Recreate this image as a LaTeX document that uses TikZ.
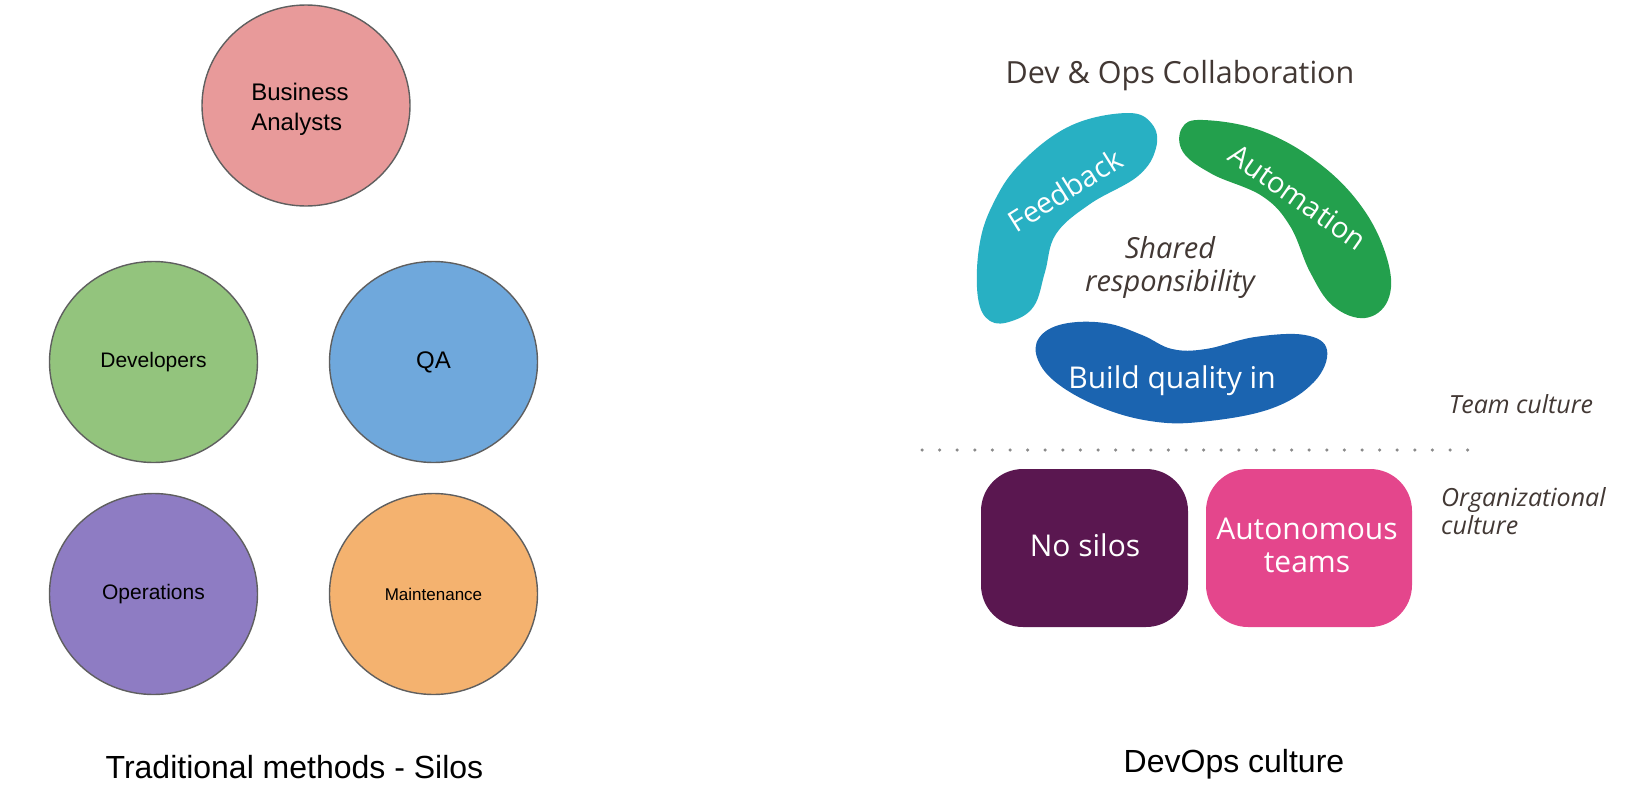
\documentclass[tikz,border=0pt]{standalone}
\usepackage{fontspec}
\setmainfont{Liberation Sans}
\newfontfamily\osans{Open Sans}
\usetikzlibrary{shapes.geometric}
\definecolor{baC}{HTML}{E89A9A}
\definecolor{devC}{HTML}{93C47D}
\definecolor{qaC}{HTML}{6FA8DC}
\definecolor{opsC}{HTML}{8E7CC3}
\definecolor{mntC}{HTML}{F4B26F}
\definecolor{siloline}{HTML}{5F5F5F}
\definecolor{fbC}{HTML}{28B0C3}
\definecolor{autoC}{HTML}{23A04D}
\definecolor{bqC}{HTML}{1B64B0}
\definecolor{nsC}{HTML}{5A1750}
\definecolor{atC}{HTML}{E4468C}
\definecolor{txtC}{HTML}{423834}
\definecolor{dotC}{HTML}{8A8A8A}
\tikzset{
  silo/.style={ellipse, draw=siloline, line width=1.4pt, inner sep=0pt,
    minimum width=208pt, minimum height=201pt, text=black},
  blobtext/.style={text=white, font=\osans\fontsize{29}{32}\selectfont, inner sep=0pt},
  boxtext/.style={text=white, font=\osans\fontsize{30}{33}\selectfont, align=center, inner sep=0pt},
  culttext/.style={text=txtC, font=\osans\itshape\fontsize{25}{28}\selectfont, inner sep=0pt},
  bigtitle/.style={font=\fontsize{32}{36}\selectfont, inner sep=0pt, anchor=base},
  dotline/.style={draw=dotC, line width=3.5pt, line cap=round, dash pattern=on 0pt off 17.6pt}
}
\begin{document}
\begin{tikzpicture}[x=1pt,y=-1pt]
\useasboundingbox (0,0) rectangle (1634,806);
% ---- left: traditional silos ----
\node[silo, fill=baC] (ba) at (306,105.5) {};
\node[align=left, font=\fontsize{24}{30}\selectfont, inner sep=0pt] (batext) at (300,109) {Business\\Analysts};
\node[silo, fill=devC, font=\fontsize{21}{25}\selectfont] (dev) at (153.5,362) {Developers};
\node[silo, fill=qaC, font=\fontsize{24}{28}\selectfont] (qa) at (433.5,362) {QA};
\node[silo, fill=opsC, font=\fontsize{21}{25}\selectfont] (ops) at (153.5,594) {Operations};
\node[silo, fill=mntC, font=\fontsize{17}{20}\selectfont] (mnt) at (433.5,594) {Maintenance};
\node[bigtitle] (trad) at (294.5,778) {Traditional methods - Silos};
% ---- right: devops culture ----
\node[text=txtC, font=\osans\fontsize{30.5}{33}\selectfont, inner sep=0pt, anchor=base] (collab) at (1180,83) {Dev \& Ops Collaboration};
% Feedback blob
\fill[fbC] plot[smooth cycle, tension=0.65] coordinates {
  (1127,113) (1152,124) (1156,148) (1138,176) (1090,204) (1056,234)
  (1045,272) (1034,306) (1012,321) (990,321) (978,298) (979,248)
  (992,206) (1020,164) (1070,126)};
% Automation blob
\fill[autoC] plot[smooth cycle, tension=0.65] coordinates {
  (1203,120) (1262,131) (1320,164) (1364,210) (1388,262) (1388,300)
  (1365,318) (1333,306) (1310,272) (1290,226) (1262,196) (1212,174)
  (1183,152) (1182,128)};
% Build quality blob
\fill[bqC] plot[smooth cycle, tension=0.65] coordinates {
  (1039,338) (1063,324) (1105,323) (1142,335) (1172,349) (1206,349)
  (1255,337) (1305,335) (1327,350) (1314,382) (1270,409) (1200,422)
  (1150,421) (1100,407) (1058,384) (1038,360)};
\node[blobtext, rotate=32] (fb) at (1065,190) {Feedback};
\node[blobtext, rotate=-35] (auto) at (1298,197) {Automation};
\node[text=white, font=\osans\fontsize{30}{33}\selectfont, inner sep=0pt, anchor=base] (bq) at (1172,388) {Build quality in};
\node[text=txtC, font=\osans\itshape\fontsize{29}{33}\selectfont, align=center, inner sep=0pt] (shared) at (1170,267) {Shared\\responsibility};
\node[culttext] (team) at (1521,404) {Team culture};
% dotted separator
\coordinate (dotL) at (922,450);
\coordinate (dotR) at (1469,450);
\draw[dotline] (dotL) -- (dotR);
% organizational boxes
\node[draw=none, fill=nsC, rounded corners=42pt, minimum width=207pt, minimum height=158pt, inner sep=0pt] (ns) at (1084.5,548) {};
\node[draw=none, fill=atC, rounded corners=42pt, minimum width=206pt, minimum height=158pt, inner sep=0pt] (at) at (1309,548) {};
\node[boxtext] (nstext) at (1085,545) {No silos};
\node[boxtext] (attext) at (1307,545) {Autonomous\\teams};
\node[culttext, align=left, anchor=west] (org) at (1441,511) {Organizational\\culture};
\node[bigtitle] (devops) at (1234,772) {DevOps culture};
\end{tikzpicture}
\end{document}
